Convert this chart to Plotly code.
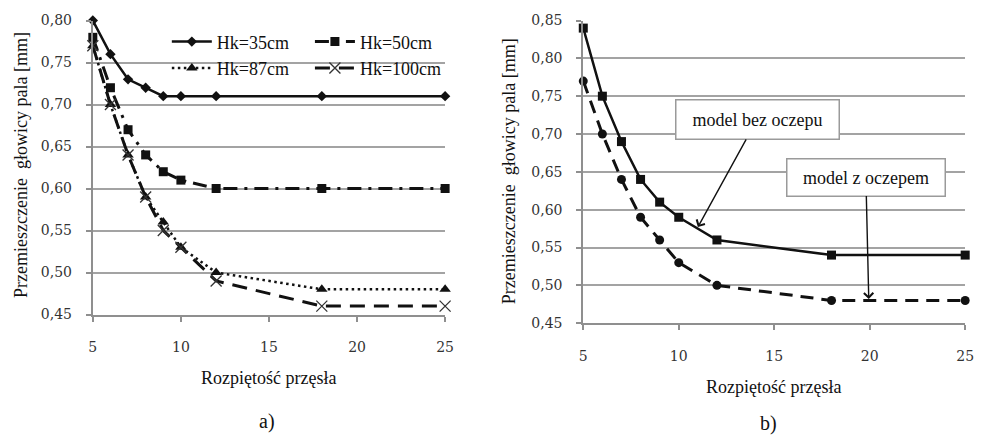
import plotly.graph_objects as go

# Span lengths (x) shared by both panels
rozpietosc = [5, 6, 7, 8, 9, 10, 12, 18, 25]

# Panel a) – pile head displacement for different cap heights [mm]
hk35 = [0.80, 0.76, 0.73, 0.72, 0.71, 0.71, 0.71, 0.71, 0.71]
hk50 = [0.78, 0.72, 0.67, 0.64, 0.62, 0.61, 0.60, 0.60, 0.60]
hk87 = [0.77, 0.70, 0.64, 0.59, 0.56, 0.53, 0.50, 0.48, 0.48]
hk100 = [0.77, 0.70, 0.64, 0.59, 0.55, 0.53, 0.49, 0.46, 0.46]

# Panel b) – model without / with the pile cap [mm]
bez_oczepu = [0.84, 0.75, 0.69, 0.64, 0.61, 0.59, 0.56, 0.54, 0.54]
z_oczepem = [0.77, 0.70, 0.64, 0.59, 0.56, 0.53, 0.50, 0.48, 0.48]

x_ticks = [5, 10, 15, 20, 25]

W, H = 988, 443
SERIF = "Liberation Serif"
TICKFONT = dict(family="DejaVu Serif", size=14, color="#333333")
GRID = "#a3a3a3"
AXIS = "#8f8f8f"
INK = "#111111"


def px_x(p):
    return p / W


def px_y(p):
    return 1 - p / H


fig = go.Figure()

# ---- panel a) ----
fig.add_trace(go.Scatter(
    x=rozpietosc, y=hk35, name="Hk=35cm", mode="lines+markers",
    line=dict(color=INK, width=2.5),
    marker=dict(symbol="diamond", size=8, color=INK),
    xaxis="x", yaxis="y", legend="legend", cliponaxis=False))
fig.add_trace(go.Scatter(
    x=rozpietosc, y=hk50, name="Hk=50cm", mode="lines+markers",
    line=dict(color=INK, width=3, dash="14px,7px,3px,7px"),
    marker=dict(symbol="square", size=9, color=INK),
    xaxis="x", yaxis="y", legend="legend2", cliponaxis=False))
fig.add_trace(go.Scatter(
    x=rozpietosc, y=hk87, name="Hk=87cm", mode="lines+markers",
    line=dict(color=INK, width=2.5, dash="2.5px,3.5px"),
    marker=dict(symbol="triangle-up", size=10, color=INK),
    xaxis="x", yaxis="y", legend="legend", cliponaxis=False))
fig.add_trace(go.Scatter(
    x=rozpietosc, y=hk100, name="Hk=100cm", mode="lines+markers",
    line=dict(color=INK, width=3, dash="15px,9px"),
    marker=dict(symbol="x-thin", size=11, color=INK,
                line=dict(color="#333333", width=1.3)),
    xaxis="x", yaxis="y", legend="legend2", cliponaxis=False))

# ---- panel b) ----
fig.add_trace(go.Scatter(
    x=rozpietosc, y=bez_oczepu, name="model bez oczepu", mode="lines+markers",
    line=dict(color=INK, width=2.5),
    marker=dict(symbol="square", size=9, color=INK),
    xaxis="x2", yaxis="y2", showlegend=False, cliponaxis=False))
fig.add_trace(go.Scatter(
    x=rozpietosc, y=z_oczepem, name="model z oczepem", mode="lines+markers",
    line=dict(color=INK, width=3, dash="13px,8px"),
    marker=dict(symbol="circle", size=9, color=INK),
    xaxis="x2", yaxis="y2", showlegend=False, cliponaxis=False))

xcommon = dict(range=[5, 25], tickvals=x_ticks, showgrid=False, zeroline=False,
               showline=True, linecolor=AXIS, linewidth=2, ticks="outside",
               ticklen=5, tickcolor=AXIS, tickwidth=1.5, tickfont=TICKFONT,
               ticklabelstandoff=14, tickformat="d")
ycommon = dict(dtick=0.05, tickformat=".2f", showgrid=True, gridcolor=GRID,
               gridwidth=1.5, zeroline=False, showline=True, linecolor=AXIS,
               linewidth=2, ticks="outside", ticklen=5, tickcolor=AXIS,
               tickwidth=1.5, tickfont=TICKFONT, ticklabelstandoff=11)

legend_font = dict(family=SERIF, size=18, color=INK)

fig.update_layout(
    width=W, height=H,
    margin=dict(l=0, r=0, t=0, b=0),
    paper_bgcolor="white", plot_bgcolor="white",
    separators=",.",
    font=dict(family=SERIF, size=18, color=INK),
    xaxis=dict(domain=[px_x(90), px_x(447)], anchor="y", **xcommon),
    yaxis=dict(domain=[px_y(318), px_y(13)], anchor="x", range=[0.45, 0.80], **ycommon),
    xaxis2=dict(domain=[px_x(587), px_x(974)], anchor="y2", **xcommon),
    yaxis2=dict(domain=[px_y(327), px_y(13)], anchor="x2", range=[0.45, 0.85], **ycommon),
    legend=dict(x=px_x(165), y=px_y(16), xanchor="left", yanchor="top",
                bgcolor="rgba(0,0,0,0)", font=legend_font,
                itemwidth=40, tracegroupgap=0),
    legend2=dict(x=px_x(310), y=px_y(16), xanchor="left", yanchor="top",
                 bgcolor="rgba(0,0,0,0)", font=legend_font,
                 itemwidth=40, tracegroupgap=0),
)

ytitle = "Przemieszczenie  głowicy pala [mm]"
xtitle = "Rozpiętość przęsła"

annotations = [
    dict(text=ytitle, x=px_x(17), y=px_y(163), textangle=-90),
    dict(text=ytitle, x=px_x(512), y=px_y(169), textangle=-90),
    dict(text=xtitle, x=px_x(268), y=px_y(384)),
    dict(text=xtitle, x=px_x(780), y=px_y(393)),
    dict(text="a)", x=px_x(266), y=px_y(429), font=dict(size=20)),
    dict(text="b)", x=px_x(775), y=px_y(431), font=dict(size=20)),
]
for a in annotations:
    a.update(xref="paper", yref="paper", showarrow=False,
             xanchor="center", yanchor="middle")

# Callout boxes with arrows in panel b)
annotations += [
    dict(text="model bez oczepu", x=11, y=0.577, xref="x2", yref="y2",
         ax=14.1, ay=0.719, axref="x2", ayref="y2",
         showarrow=True, arrowhead=4, arrowsize=1.3, arrowwidth=1.4,
         arrowcolor=INK, bgcolor="white", bordercolor="#9a9a9a",
         borderwidth=1.5, borderpad=7, width=148, height=24,
         font=dict(family=SERIF, size=18, color=INK)),
    dict(text="model z oczepem", x=19.95, y=0.482, xref="x2", yref="y2",
         ax=19.8, ay=0.643, axref="x2", ayref="y2",
         showarrow=True, arrowhead=4, arrowsize=1.3, arrowwidth=1.4,
         arrowcolor=INK, bgcolor="white", bordercolor="#9a9a9a",
         borderwidth=1.5, borderpad=7, width=143, height=22,
         font=dict(family=SERIF, size=18, color=INK)),
]
fig.update_layout(annotations=annotations)

fig.write_html("out.html")
